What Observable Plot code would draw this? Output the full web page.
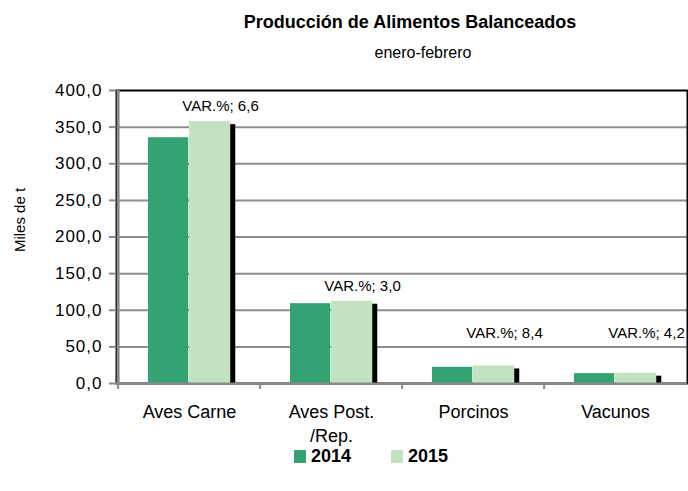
<!DOCTYPE html>
<html>
<head>
<meta charset="utf-8">
<script src="https://cdn.jsdelivr.net/npm/d3@7"></script>
<script src="https://cdn.jsdelivr.net/npm/@observablehq/plot@0.6"></script>
<style>
  html, body { margin: 0; padding: 0; background: #fff; overflow: hidden; }
  body { width: 688px; height: 491px; position: relative; font-family: "Liberation Sans", Arial, sans-serif; color: #000; }
  #title { position: absolute; top: 10px; left: 0; width: 820px; text-align: center; font-weight: bold; font-size: 18px; line-height: 24px; }
  #subtitle { position: absolute; top: 42px; left: 0; width: 846px; text-align: center; font-size: 16px; line-height: 22px; }
  #ylabel { position: absolute; left: 20px; top: 220px; transform: translate(-50%, -50%) rotate(-90deg); font-size: 15px; white-space: nowrap; line-height: 18px; }
  #chart { position: absolute; top: 70px; left: 0; }
  #chart g[aria-label="y-axis tick label"] text { letter-spacing: 1px; }
  #legend { position: absolute; top: 445px; left: 0; width: 688px; height: 22px; }
  .lg { position: absolute; top: 0; display: flex; align-items: center; font-weight: bold; font-size: 18px; line-height: 22px; }
  .sw { width: 12px; height: 13px; margin-right: 5px; }
</style>
</head>
<body>
<div id="title">Producción de Alimentos Balanceados</div>
<div id="subtitle">enero-febrero</div>
<div id="ylabel"></div>
<div id="chart"></div>
<div id="legend"></div>
<script>
// ---- data ----
const categories = ["Aves Carne", "Aves Post.\n/Rep.", "Porcinos", "Vacunos"];
const values2014 = [335.5, 109.0, 22.1, 13.5];
const values2015 = [357.5, 112.3, 24.0, 14.1];
const variation = [6.6, 3.0, 8.4, 4.2];
const seriesNames = ["2014", "2015"];
const yTicks = [0, 50, 100, 150, 200, 250, 300, 350, 400];
const yLabel = "Miles de t";

const colors = ["#34a374", "#c3e2c1"];

document.getElementById("ylabel").textContent = yLabel;

const rows = categories.map((c, i) => ({cat: c, v2014: values2014[i], v2015: values2015[i], varp: variation[i]}));
const fmt = v => v.toFixed(1).replace(".", ",");
const half = (688 - 116 - 1) / categories.length / 2;

const plot = Plot.plot({
  width: 688,
  height: 380,
  marginTop: 20,
  marginBottom: 67,
  marginLeft: 116,
  marginRight: 1,
  style: {fontFamily: "Liberation Sans, Arial, sans-serif", color: "#000", overflow: "visible"},
  x: {type: "band", domain: categories, padding: 0},
  y: {domain: [0, 400]},
  marks: [
    Plot.ruleY(yTicks.filter(t => t > 0 && t < 400), {stroke: "#8e8e8e", strokeWidth: 2}),
    Plot.frame({stroke: "#000", strokeWidth: 2}),
    // shadow of 2015 bars
    Plot.barY(rows, {x: "cat", y: "v2015", fill: "#000", insetLeft: 76, insetRight: 24.75, insetTop: 3}),
    Plot.barY(rows, {x: "cat", y: "v2014", fill: colors[0], insetLeft: 30, insetRight: 71.75}),
    Plot.barY(rows, {x: "cat", y: "v2015", fill: colors[1], insetLeft: 71, insetRight: 29.75}),
    // left & bottom axis lines
    Plot.ruleY([0], {stroke: "#8a8a8a", strokeWidth: 2}),
    Plot.ruleX([categories[0]], {dx: -half, stroke: "#8a8a8a", strokeWidth: 3}),
    // category boundary ticks
    Plot.ruleX(categories, {x: d => d, y1: 0, y2: 0, insetBottom: -6, dx: -half, stroke: "#8a8a8a", strokeWidth: 2}),
    Plot.axisY({ticks: yTicks, tickFormat: fmt, tickSize: 7, tickPadding: 7, stroke: "#8a8a8a", strokeWidth: 2, fontSize: 17, label: null}),
    Plot.axisX({tickSize: 0, tickPadding: 17, fontSize: 18, lineHeight: 1.35, label: null}),
    Plot.text(rows, {x: "cat", y: d => Math.max(d.v2015, 48), dy: -15, dx: 31, text: d => "VAR.%; " + fmt(d.varp), fontSize: 15})
  ]
});
document.getElementById("chart").appendChild(plot);

// legend
const legend = document.getElementById("legend");
const lgX = [294, 391];
seriesNames.forEach((name, i) => {
  const el = document.createElement("div");
  el.className = "lg";
  el.style.left = lgX[i] + "px";
  el.innerHTML = `<span class="sw" style="background:${colors[i]}"></span><span>${name}</span>`;
  legend.appendChild(el);
});
</script>
</body>
</html>
